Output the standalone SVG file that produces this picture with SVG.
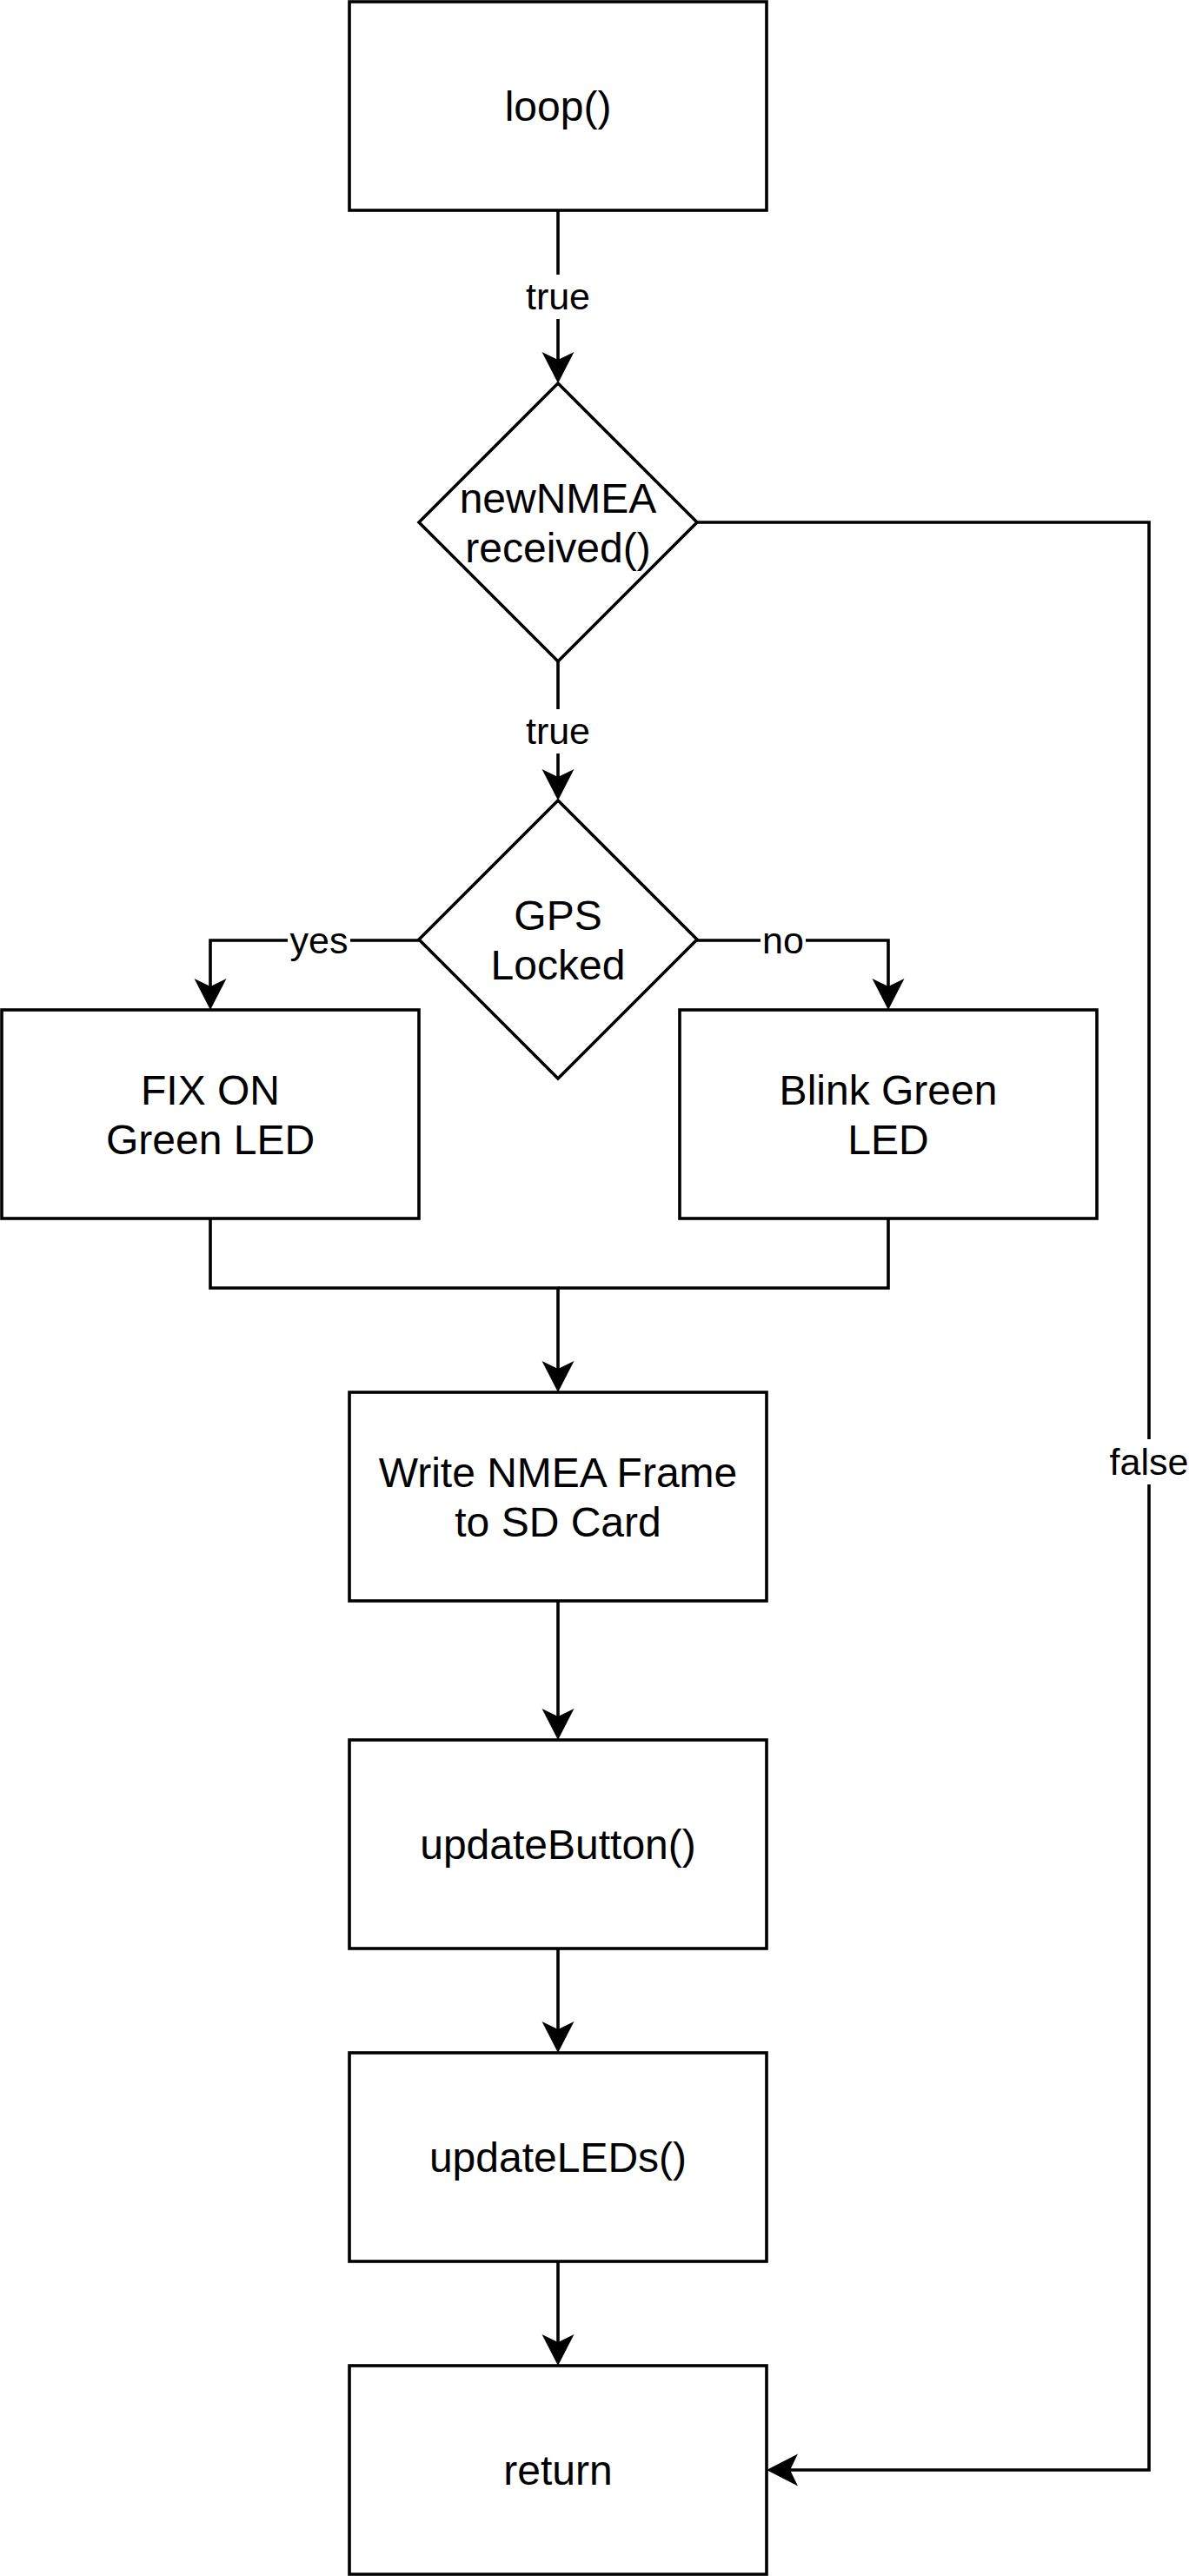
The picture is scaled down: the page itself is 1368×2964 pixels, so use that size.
<svg xmlns="http://www.w3.org/2000/svg" width="1368" height="2964" viewBox="0 0 1368 2964">
<style>
.box{fill:#ffffff;stroke:#000000;stroke-width:3.6}
.edge{fill:none;stroke:#000000;stroke-width:3.6}
.t{font-family:"Liberation Sans",Arial,Helvetica,sans-serif;font-size:48px;fill:#000000;text-anchor:middle}
.l{font-family:"Liberation Sans",Arial,Helvetica,sans-serif;font-size:43px;fill:#000000;text-anchor:middle}
.lbg{fill:#ffffff;stroke:none}
</style>
<defs>
<marker id="arr" markerUnits="userSpaceOnUse" markerWidth="40" markerHeight="40" viewBox="0 0 40 40" refX="9" refY="20" orient="auto">
<path d="M36,20 L0,1.5 L9,20 L0,38.5 Z" fill="#000000"/>
</marker>
</defs>
<rect x="0" y="0" width="1368" height="2964" fill="#ffffff"/>
<g id="connectors">
<path class="edge" d="M642 242 V414" marker-end="url(#arr)"/>
<path class="edge" d="M642 761 V894" marker-end="url(#arr)"/>
<path class="edge" d="M482 1082 H242 V1135" marker-end="url(#arr)"/>
<path class="edge" d="M802 1082 H1022 V1135" marker-end="url(#arr)"/>
<path class="edge" d="M242 1402 V1482 H642 V1575" marker-end="url(#arr)"/>
<path class="edge" d="M1022 1402 V1482 H642"/>
<path class="edge" d="M642 1842 V1975" marker-end="url(#arr)"/>
<path class="edge" d="M642 2242 V2335" marker-end="url(#arr)"/>
<path class="edge" d="M642 2602 V2695" marker-end="url(#arr)"/>
<path class="edge" d="M802 601 H1322 V2842 H909" marker-end="url(#arr)"/>
<rect class="lbg" x="602" y="316" width="80" height="51"/>
<text class="l" x="642" y="356">true</text>
<rect class="lbg" x="602" y="816" width="80" height="51"/>
<text class="l" x="642" y="856">true</text>
<rect class="lbg" x="331" y="1060" width="72" height="44"/>
<text class="l" x="367" y="1097">yes</text>
<rect class="lbg" x="875" y="1060" width="52" height="44"/>
<text class="l" x="901" y="1097">no</text>
<rect class="lbg" x="1274" y="1656" width="94" height="52"/>
<text class="l" x="1322" y="1697">false</text>
</g>
<g id="loop">
<rect class="box" x="402" y="2" width="480" height="240"/>
<text class="t" x="642" y="139">loop()</text>
</g>
<g id="newNMEA">
<polygon class="box" points="642,441 802,601 642,761 482,601"/>
<text class="t" x="642" y="590">newNMEA</text>
<text class="t" x="642" y="647">received()</text>
</g>
<g id="gpsLocked">
<polygon class="box" points="642,921 802,1081 642,1241 482,1081"/>
<text class="t" x="642" y="1070">GPS</text>
<text class="t" x="642" y="1127">Locked</text>
</g>
<g id="fixOn">
<rect class="box" x="2" y="1162" width="480" height="240"/>
<text class="t" x="242" y="1271">FIX ON</text>
<text class="t" x="242" y="1328">Green LED</text>
</g>
<g id="blink">
<rect class="box" x="782" y="1162" width="480" height="240"/>
<text class="t" x="1022" y="1271">Blink Green</text>
<text class="t" x="1022" y="1328">LED</text>
</g>
<g id="writeNMEA">
<rect class="box" x="402" y="1602" width="480" height="240"/>
<text class="t" x="642" y="1711">Write NMEA Frame</text>
<text class="t" x="642" y="1768">to SD Card</text>
</g>
<g id="updateButton">
<rect class="box" x="402" y="2002" width="480" height="240"/>
<text class="t" x="642" y="2139">updateButton()</text>
</g>
<g id="updateLEDs">
<rect class="box" x="402" y="2362" width="480" height="240"/>
<text class="t" x="642" y="2499">updateLEDs()</text>
</g>
<g id="return">
<rect class="box" x="402" y="2722" width="480" height="240"/>
<text class="t" x="642" y="2859">return</text>
</g>
</svg>
